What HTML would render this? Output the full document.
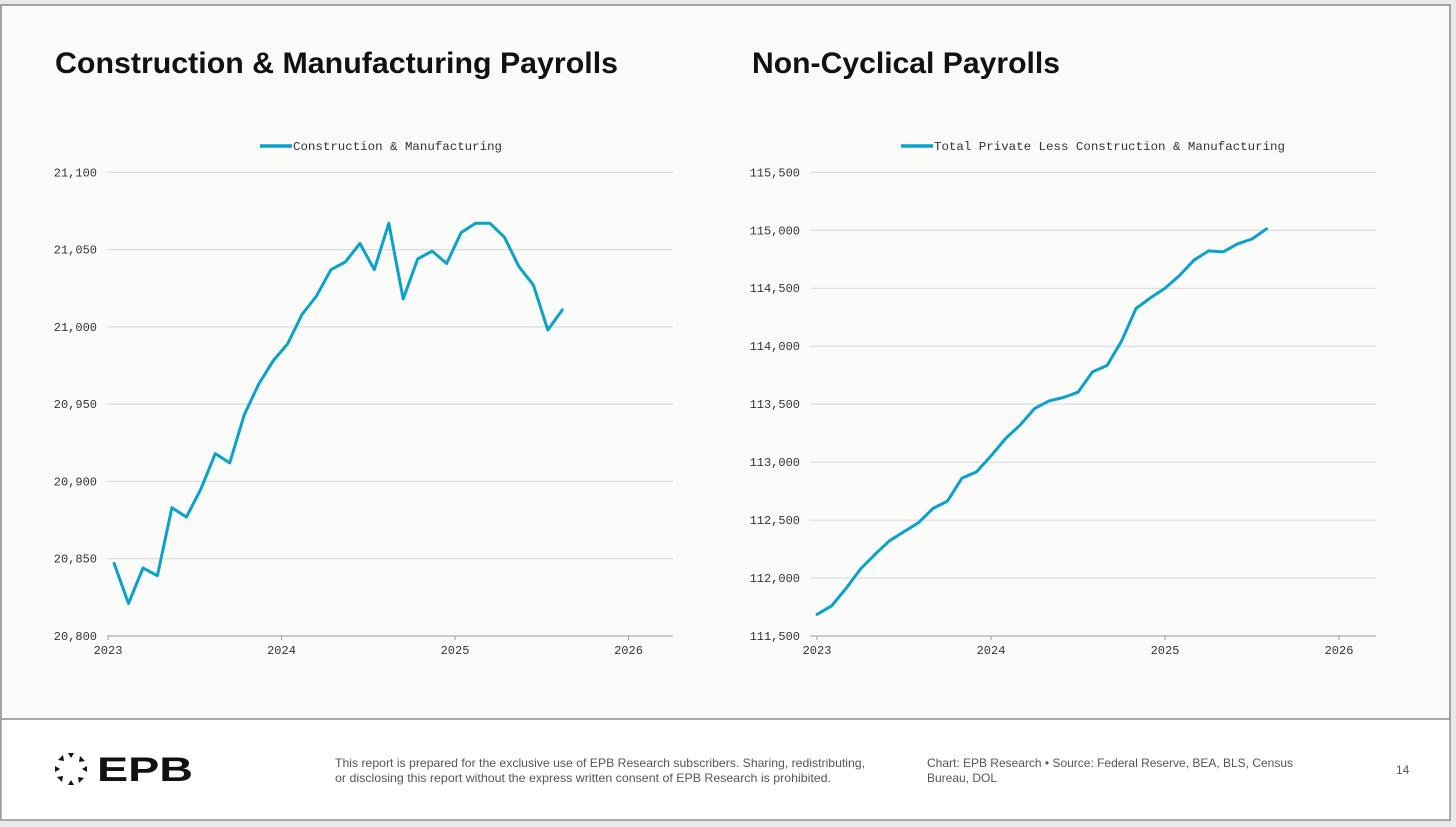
<!DOCTYPE html>
<html><head><meta charset="utf-8"><style>
html,body{margin:0;padding:0;background:#e9e9e9;}
svg{display:block;}
.mono{font-family:"Liberation Mono",monospace;font-size:12px;fill:#333;}
.title{font-family:"Liberation Sans",sans-serif;font-weight:bold;font-size:30px;fill:#111;}
.foot{font-family:"Liberation Sans",sans-serif;font-size:12px;fill:#555;}
</style></head><body>
<svg id="page" width="1456" height="827" viewBox="0 0 1456 827">
<rect x="0" y="0" width="1456" height="827" fill="#e9e9e9"/>
<rect x="1" y="5" width="1449" height="815" fill="#fbfbf9" stroke="#8a8a8a" stroke-width="1.5"/>
<rect x="1.75" y="719" width="1447.5" height="100.25" fill="#ffffff"/>
<line x1="1" y1="719" x2="1450" y2="719" stroke="#8a8a8a" stroke-width="1.5"/>
<text class="title" x="55" y="73" textLength="563" lengthAdjust="spacingAndGlyphs">Construction &amp; Manufacturing Payrolls</text>
<text class="title" x="752" y="73" textLength="308" lengthAdjust="spacingAndGlyphs">Non-Cyclical Payrolls</text>
<g id="left"></g>
<g id="right"></g>
<g>
<g fill="#111" transform="translate(71,769)">
<polygon points="-3,-16 3,-16 0,-11"/><polygon points="9,-13 14,-8 8,-7"/><polygon points="16,-3 16,3 11,0"/><polygon points="13,9 8,14 7,8"/>
<polygon points="3,16 -3,16 0,11"/><polygon points="-9,13 -14,8 -8,7"/><polygon points="-16,3 -16,-3 -11,0"/><polygon points="-13,-9 -8,-14 -7,-8"/>
</g>
<text x="97" y="781" font-family="Liberation Sans,sans-serif" font-weight="bold" font-size="34" fill="#111" textLength="96" lengthAdjust="spacingAndGlyphs">EPB</text>
</g>
<text class="foot" x="335" y="767" textLength="530" lengthAdjust="spacingAndGlyphs">This report is prepared for the exclusive use of EPB Research subscribers. Sharing, redistributing,</text>
<text class="foot" x="335" y="782" textLength="496" lengthAdjust="spacingAndGlyphs">or disclosing this report without the express written consent of EPB Research is prohibited.</text>
<text class="foot" x="927" y="767" textLength="366" lengthAdjust="spacingAndGlyphs">Chart: EPB Research  •  Source: Federal Reserve, BEA, BLS, Census</text>
<text class="foot" x="927" y="782">Bureau, DOL</text>
<text class="foot" x="1396" y="774">14</text>
</svg>
<script>
const NS="http://www.w3.org/2000/svg";
const xYears=[2023,2024,2025,2026];
const leftTicks=[20800,20850,20900,20950,21000,21050,21100];
const leftTickLabels=["20,800","20,850","20,900","20,950","21,000","21,050","21,100"];
const leftValues=[20847,20821,20844,20839,20883,20877,20895,20918,20912,20943,20963,20978,20989,21008,21020,21037,21042,21054,21037,21067,21018,21044,21049,21041,21061,21067,21067,21058,21039,21027,20998,21011];
const rightTicks=[111500,112000,112500,113000,113500,114000,114500,115000,115500];
const rightTickLabels=["111,500","112,000","112,500","113,000","113,500","114,000","114,500","115,000","115,500"];
const rightValues=[111686,111760,111910,112078,112204,112322,112400,112477,112601,112664,112862,112916,113054,113203,113318,113462,113528,113557,113603,113778,113833,114043,114325,114417,114500,114610,114742,114822,114813,114882,114925,115012];
const startYear=2023;

function el(tag,attrs,parent){const e=document.createElementNS(NS,tag);for(const k in attrs)e.setAttribute(k,attrs[k]);parent.appendChild(e);return e;}

function drawChart(g,cfg){
  const xScale=t=>cfg.x0+(t-2023)*cfg.yearPx;
  const yScale=v=>cfg.yBottom-(v-cfg.ticks[0])/(cfg.ticks[cfg.ticks.length-1]-cfg.ticks[0])*(cfg.yBottom-cfg.yTop);
  cfg.ticks.forEach((t,i)=>{
    const y=yScale(t);
    const ln=el('line',{x1:cfg.plotL,x2:cfg.plotR,y1:y,y2:y,stroke:i===0?'#999':'#d6d6d6','stroke-width':1},g);
    
    
    const tx=el('text',{x:cfg.labelX,y:y+4,'text-anchor':'end',class:'mono'},g);
    tx.textContent=cfg.labels[i];
    
    
  });
  xYears.forEach(yr=>{
    const x=xScale(yr);
    el('line',{x1:x,x2:x,y1:cfg.yBottom,y2:cfg.yBottom+4,stroke:'#999'},g);
    const tx=el('text',{x:x,y:cfg.yBottom+18,'text-anchor':'middle',class:'mono'},g);
    tx.textContent=String(yr);
    
    
  });
  const pts=cfg.values.map((v,i)=>xScale(startYear+i/12+cfg.off).toFixed(1)+','+yScale(v).toFixed(1)).join(' ');
  const pl=el('polyline',{points:pts,fill:'none',stroke:'#0aa2cc','stroke-width':3,'stroke-linejoin':'round','stroke-linecap':'round'},g);
  
  
  const lg=el('line',{x1:cfg.legX,x2:cfg.legX+32,y1:146,y2:146,stroke:'#0aa2cc','stroke-width':3.5},g);
  
  
  const lt=el('text',{x:cfg.legX+33,y:150,class:'mono',textLength:cfg.legW,lengthAdjust:'spacingAndGlyphs'},g);
  lt.textContent=cfg.legend;
  
  
}
drawChart(document.getElementById('left'),{x0:108,yearPx:173.5,off:0.035,plotL:107,plotR:673,yTop:172.3,yBottom:636,labelX:97,ticks:leftTicks,labels:leftTickLabels,values:leftValues,legX:260,legW:209,legend:'Construction & Manufacturing'});
drawChart(document.getElementById('right'),{x0:817,yearPx:174,off:0,plotL:810,plotR:1376,yTop:172.3,yBottom:636,labelX:800,ticks:rightTicks,labels:rightTickLabels,values:rightValues,legX:901,legW:351,legend:'Total Private Less Construction & Manufacturing'});
</script>
</body></html>
